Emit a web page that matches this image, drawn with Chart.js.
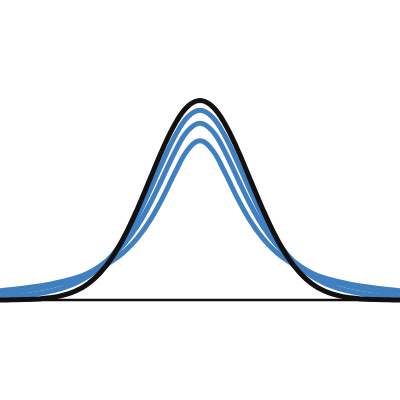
<!DOCTYPE html>
<html>
<head>
<meta charset="utf-8">
<script src="https://cdn.jsdelivr.net/npm/chart.js@4/dist/chart.umd.min.js"></script>
<style>
  body { margin: 0; background: #fff; }
  canvas { display: block; }
</style>
</head>
<body>
<canvas id="tChart" width="400" height="400"></canvas>
<script>
const xs = [-4, -3.75, -3.5, -3.25, -3, -2.75, -2.5, -2.25, -2, -1.75, -1.5, -1.25, -1, -0.75, -0.5, -0.25,
  0, 0.25, 0.5, 0.75, 1, 1.25, 1.5, 1.75, 2, 2.25, 2.5, 2.75, 3, 3.25, 3.5, 3.75, 4];

const normal = [0.0001, 0.0004, 0.0009, 0.0020, 0.0044, 0.0091, 0.0175, 0.0317, 0.0540, 0.0863, 0.1295, 0.1826, 0.2420, 0.3011, 0.3521, 0.3867,
  0.3989, 0.3867, 0.3521, 0.3011, 0.2420, 0.1826, 0.1295, 0.0863, 0.0540, 0.0317, 0.0175, 0.0091, 0.0044, 0.0020, 0.0009, 0.0004, 0.0001];

const t1 = [0.0187, 0.0211, 0.0240, 0.0275, 0.0318, 0.0372, 0.0439, 0.0525, 0.0637, 0.0784, 0.0979, 0.1242, 0.1592, 0.2037, 0.2546, 0.2996,
  0.3183, 0.2996, 0.2546, 0.2037, 0.1592, 0.1242, 0.0979, 0.0784, 0.0637, 0.0525, 0.0439, 0.0372, 0.0318, 0.0275, 0.0240, 0.0211, 0.0187];

const t2 = [0.0131, 0.0155, 0.0186, 0.0225, 0.0274, 0.0338, 0.0422, 0.0533, 0.0680, 0.0878, 0.1141, 0.1487, 0.1925, 0.2438, 0.2963, 0.3376,
  0.3536, 0.3376, 0.2963, 0.2438, 0.1925, 0.1487, 0.1141, 0.0878, 0.0680, 0.0533, 0.0422, 0.0338, 0.0274, 0.0225, 0.0186, 0.0155, 0.0131];

const t5 = [0.0051, 0.0069, 0.0092, 0.0126, 0.0173, 0.0239, 0.0333, 0.0466, 0.0651, 0.0905, 0.1245, 0.1679, 0.2197, 0.2757, 0.3279, 0.3657,
  0.3796, 0.3657, 0.3279, 0.2757, 0.2197, 0.1679, 0.1245, 0.0905, 0.0651, 0.0466, 0.0333, 0.0239, 0.0173, 0.0126, 0.0092, 0.0069, 0.0051];

const baseX = [-4, 4];
const baseY = [0, 0];

const blue = "#4080c0";
const ink = "#111111";

function pts(ys, xv) {
  return ys.map((y, i) => ({ x: (xv || xs)[i], y }));
}

function curve(ys, color, order) {
  return {
    data: pts(ys),
    borderColor: color,
    borderWidth: 5,
    pointRadius: 0,
    tension: 0.4,
    fill: false,
    order,
  };
}

new Chart(document.getElementById("tChart").getContext("2d"), {
  type: "line",
  data: {
    datasets: [
      curve(normal, ink, 0),
      curve(t5, blue, 1),
      curve(t2, blue, 2),
      curve(t1, blue, 3),
      {
        data: pts(baseY, baseX),
        borderColor: ink,
        borderWidth: 2.5,
        pointRadius: 0,
        order: 4,
      },
    ],
  },
  options: {
    responsive: false,
    animation: false,
    layout: { padding: 0 },
    scales: {
      x: { type: "linear", min: -4, max: 4, display: false },
      y: { min: -0.2, max: 0.6, display: false },
    },
    plugins: {
      legend: { display: false },
      tooltip: { enabled: false },
    },
  },
});
</script>
</body>
</html>
